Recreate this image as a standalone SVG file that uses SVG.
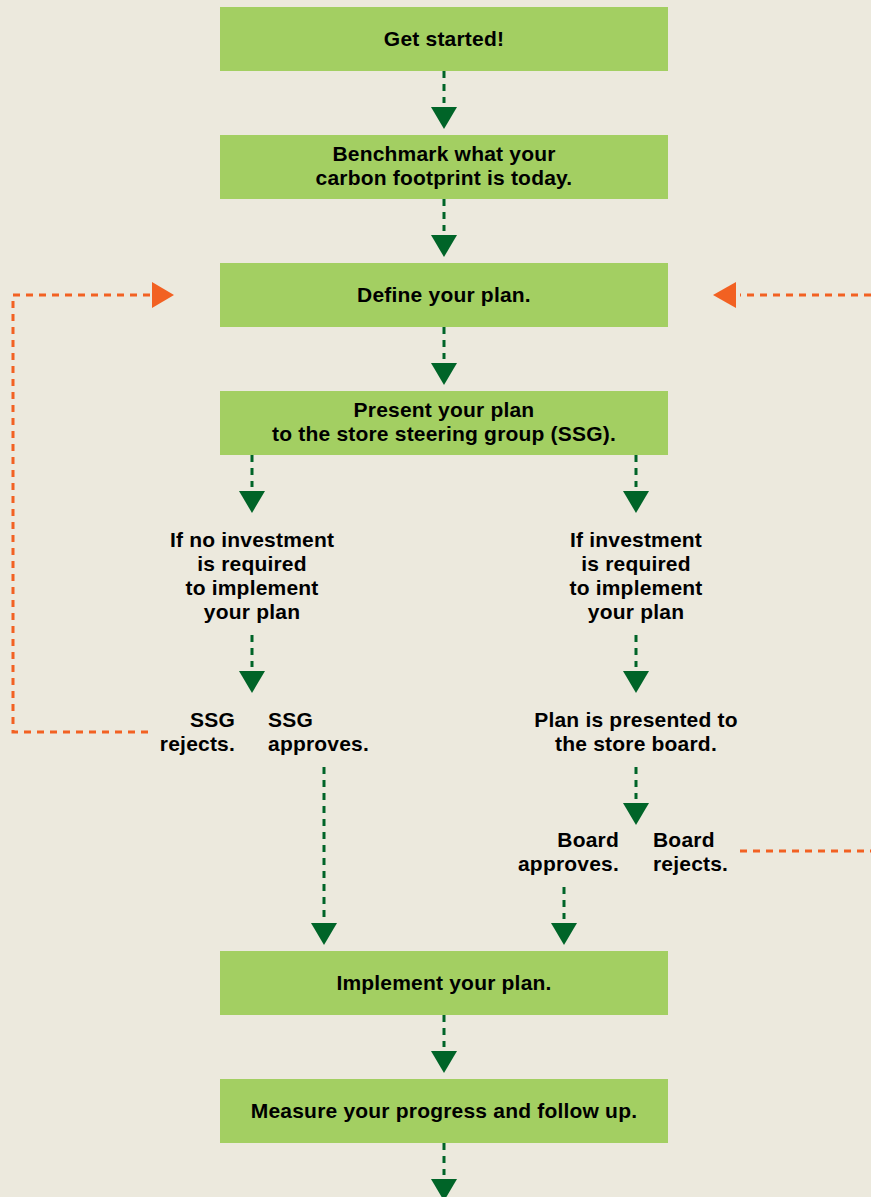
<svg xmlns="http://www.w3.org/2000/svg" width="871" height="1197" viewBox="0 0 871 1197">
<style>
.box{fill:#A3CF62}
.t{font-family:"Liberation Sans",Arial,Helvetica,sans-serif;font-weight:bold;font-size:21px;letter-spacing:0.2px;fill:#000;text-anchor:middle}
.r{text-anchor:end}
.l{text-anchor:start}
.g{stroke:#006428;stroke-width:3;stroke-dasharray:7 6;fill:none}
.o{stroke:#F26122;stroke-width:3;stroke-dasharray:7 6;fill:none}
.gh{fill:#006428}
.oh{fill:#F26122}
</style>
<rect width="871" height="1197" fill="#ECE9DD"/>
<g id="connectors">
<path class="g" d="M444 71V103"/><polygon class="gh" points="431,107 457,107 444,129"/>
<path class="g" d="M444 199V231"/><polygon class="gh" points="431,235 457,235 444,257"/>
<path class="g" d="M444 327V359"/><polygon class="gh" points="431,363 457,363 444,385"/>
<path class="g" d="M252 455V487"/><polygon class="gh" points="239,491 265,491 252,513"/>
<path class="g" d="M636 455V487"/><polygon class="gh" points="623,491 649,491 636,513"/>
<path class="g" d="M252 635V667"/><polygon class="gh" points="239,671 265,671 252,693"/>
<path class="g" d="M636 635V667"/><polygon class="gh" points="623,671 649,671 636,693"/>
<path class="g" d="M636 767V799"/><polygon class="gh" points="623,803 649,803 636,825"/>
<path class="g" d="M324 767V919"/><polygon class="gh" points="311,923 337,923 324,945"/>
<path class="g" d="M564 887V919"/><polygon class="gh" points="551,923 577,923 564,945"/>
<path class="g" d="M444 1015V1047"/><polygon class="gh" points="431,1051 457,1051 444,1073"/>
<path class="g" d="M444 1143V1175"/><polygon class="gh" points="431,1179 457,1179 444,1201"/>
<path class="o" d="M148 732H13V295H150"/><polygon class="oh" points="152,282 174,295 152,308"/>
<path class="o" d="M871 295H740"/><polygon class="oh" points="736,282 713,295 736,308"/>
<path class="o" d="M740 851H871"/>
</g>
<g id="n1"><rect class="box" x="220" y="7" width="448" height="64"/><text class="t" x="444" y="46">Get started!</text></g>
<g id="n2"><rect class="box" x="220" y="135" width="448" height="64"/><text class="t" x="444" y="161">Benchmark what your</text><text class="t" x="444" y="185">carbon footprint is today.</text></g>
<g id="n3"><rect class="box" x="220" y="263" width="448" height="64"/><text class="t" x="444" y="302">Define your plan.</text></g>
<g id="n4"><rect class="box" x="220" y="391" width="448" height="64"/><text class="t" x="444" y="417">Present your plan</text><text class="t" x="444" y="441">to the store steering group (SSG).</text></g>
<g id="n5"><text class="t" x="252" y="547">If no investment</text><text class="t" x="252" y="571">is required</text><text class="t" x="252" y="595">to implement</text><text class="t" x="252" y="619">your plan</text></g>
<g id="n6"><text class="t" x="636" y="547">If investment</text><text class="t" x="636" y="571">is required</text><text class="t" x="636" y="595">to implement</text><text class="t" x="636" y="619">your plan</text></g>
<g id="n7"><text class="t r" x="235" y="727">SSG</text><text class="t r" x="235" y="751">rejects.</text></g>
<g id="n8"><text class="t l" x="268" y="727">SSG</text><text class="t l" x="268" y="751">approves.</text></g>
<g id="n9"><text class="t" x="636" y="727">Plan is presented to</text><text class="t" x="636" y="751">the store board.</text></g>
<g id="n10"><text class="t r" x="619" y="847">Board</text><text class="t r" x="619" y="871">approves.</text></g>
<g id="n11"><text class="t l" x="653" y="847">Board</text><text class="t l" x="653" y="871">rejects.</text></g>
<g id="n12"><rect class="box" x="220" y="951" width="448" height="64"/><text class="t" x="444" y="990">Implement your plan.</text></g>
<g id="n13"><rect class="box" x="220" y="1079" width="448" height="64"/><text class="t" x="444" y="1118">Measure your progress and follow up.</text></g>
</svg>
